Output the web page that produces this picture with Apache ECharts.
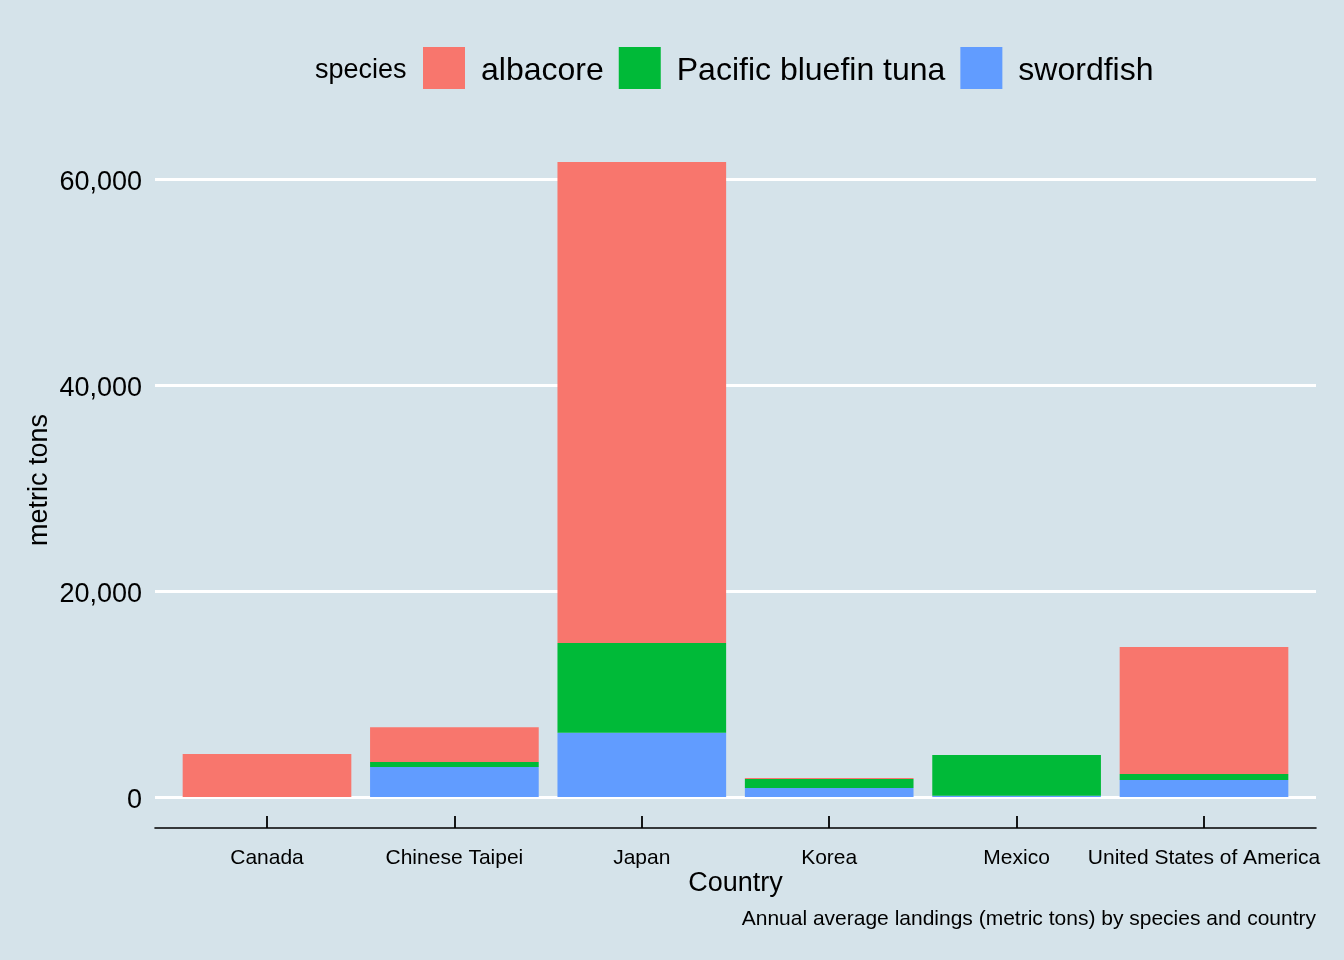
<!DOCTYPE html>
<html>
<head>
<meta charset="utf-8">
<script src="https://cdn.jsdelivr.net/npm/echarts@6/dist/echarts.min.js"></script>
<style>
  html, body { margin: 0; padding: 0; background: #D5E3EA; }
  #main { width: 1344px; height: 960px; }
</style>
</head>
<body>
<div id="main"></div>
<script>
// countries along the x axis
var countries = ['Canada', 'Chinese Taipei', 'Japan', 'Korea', 'Mexico', 'United States of America'];
// annual average landings, metric tons
var albacore  = [4180, 3380, 46700, 100, 0, 12330];
var bluefin   = [0, 480, 8720, 880, 3950, 580];
var swordfish = [0, 2920, 6230, 870, 130, 1650];
var yTicks = [0, 20000, 40000, 60000];

var FONT = "'Liberation Sans', Arial, sans-serif";
var chart = echarts.init(document.getElementById('main'));

var option = {
  backgroundColor: '#D5E3EA',
  animation: false,
  textStyle: { fontFamily: FONT, color: '#000' },
  title: [
    {
      text: 'species', left: 315, top: 57, padding: 0,
      textStyle: { fontFamily: FONT, fontSize: 27, fontWeight: 'normal', color: '#000' }
    },
    {
      text: 'Annual average landings (metric tons) by species and country',
      right: 28, top: 909, padding: 0,
      textStyle: { fontFamily: FONT, fontSize: 21, fontWeight: 'normal', color: '#000' }
    }
  ],
  legend: {
    data: ['albacore', 'Pacific bluefin tuna', 'swordfish'],
    left: 423, top: 47, padding: 0,
    itemWidth: 42, itemHeight: 42, itemGap: 15,
    icon: 'rect',
    formatter: '{n|{name}}',
    textStyle: {
      fontFamily: FONT, fontSize: 32, color: '#000', padding: [0, 0, 0, 11],
      rich: { n: { fontFamily: FONT, fontSize: 32, color: '#000', padding: [6, 0, 0, 0] } }
    }
  },
  grid: [
    // frame: gridlines + axis line (ggplot panel incl. expansion)
    { left: 155, right: 28, top: 179, bottom: 163 },
    // bars: category bands
    { left: 173.3, right: 46.3, top: 179, bottom: 163 }
  ],
  xAxis: [
    {
      gridIndex: 0, type: 'category', data: countries,
      offset: 31,
      axisLine: { show: true, onZero: false, lineStyle: { color: '#000', width: 1.6 } },
      axisTick: { show: false },
      axisLabel: { show: false },
      splitLine: { show: false },
      name: 'Country', nameLocation: 'middle', nameGap: 42, nameMoveOverlap: false,
      nameTextStyle: { fontFamily: FONT, fontSize: 27, color: '#000' }
    },
    {
      gridIndex: 1, type: 'category', data: countries,
      offset: 31,
      axisLine: { show: false, onZero: false },
      axisTick: { show: true, inside: true, length: 12, interval: 0, alignWithLabel: true,
                  lineStyle: { color: '#000', width: 1.8 } },
      axisLabel: { interval: 0, fontFamily: FONT, fontSize: 21, color: '#000', margin: 20 },
      splitLine: { show: false }
    }
  ],
  yAxis: [
    {
      gridIndex: 0, type: 'value', min: 0, max: 60000, interval: 20000,
      axisLine: { show: false }, axisTick: { show: false },
      axisLabel: {
        fontFamily: FONT, fontSize: 27, color: '#000', margin: 13,
        formatter: function (v) {
          return yTicks.indexOf(v) >= 0 ? '{t|' + v.toLocaleString('en-US') + '}' : '';
        },
        rich: { t: { fontFamily: FONT, fontSize: 27, color: '#000', padding: [8, 0, 0, 0] } }
      },
      splitLine: { show: true, lineStyle: { color: '#fff', width: 3 } },
      name: 'metric tons', nameLocation: 'middle', nameGap: 102, nameMoveOverlap: false,
      nameTextStyle: { fontFamily: FONT, fontSize: 27, color: '#000', padding: [0, 0, 0, 16] }
    },
    {
      gridIndex: 1, type: 'value', min: 0, max: 60000, interval: 20000, show: false,
      splitLine: { show: false }
    }
  ],
  series: [
    {
      name: 'swordfish', type: 'bar', stack: 'total', xAxisIndex: 1, yAxisIndex: 1,
      data: swordfish, barWidth: '90%', clip: false, itemStyle: { color: '#619CFF' }
    },
    {
      name: 'Pacific bluefin tuna', type: 'bar', stack: 'total', xAxisIndex: 1, yAxisIndex: 1,
      data: bluefin, barWidth: '90%', clip: false, itemStyle: { color: '#00BA38' }
    },
    {
      name: 'albacore', type: 'bar', stack: 'total', xAxisIndex: 1, yAxisIndex: 1,
      data: albacore, barWidth: '90%', clip: false, itemStyle: { color: '#F8766D' }
    }
  ]
};

chart.setOption(option);
</script>
</body>
</html>
